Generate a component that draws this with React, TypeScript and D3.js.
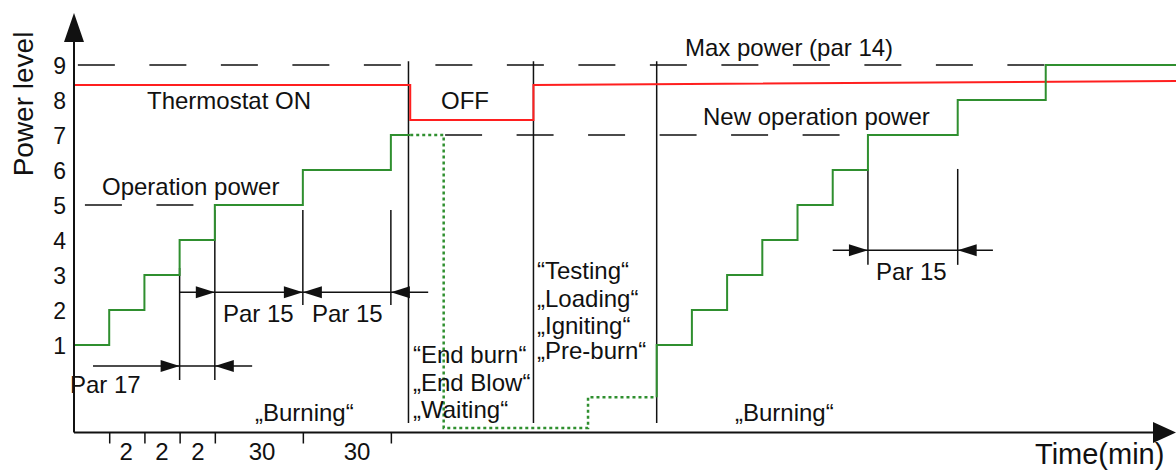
import React, { useEffect, useRef } from 'react'
import * as d3 from 'd3'

// Schematic chart values: x in "step units" along the time axis, y in power levels
const levelTicks = [1, 2, 3, 4, 5, 6, 7, 8, 9]
const timeTicks = [1, 2, 3, 4, 6.5, 9]
const timeLabels = ['2', '2', '2', '30', '30']
const timeLabelAt = [1.48, 2.5, 3.52, 5.34, 8.04]

// power steps during first burning phase
const rampUp: [number, number][] = [
  [0, 1], [1, 2], [2, 3], [3, 4], [4, 5], [6.5, 6], [9, 7], [9.55, 7],
]
// end burn / waiting / testing (dotted)
const shutdown: [number, number][] = [
  [9.55, 7], [10.5, 7], [10.5, -1.37], [14.6, -1.37], [14.6, -0.49], [16.55, -0.49],
]
// restart up to max power
const restart: [number, number][] = [
  [16.55, -0.49], [16.55, 1], [17.55, 2], [18.55, 3], [19.55, 4], [20.55, 5],
  [21.55, 6], [22.55, 7], [25.1, 8], [27.6, 9], [31.3, 9],
]
// thermostat state line
const thermostat: [number, number][] = [
  [0, 8.43], [9.55, 8.43], [9.55, 7.43], [13.05, 7.43], [13.05, 8.43], [31.3, 8.54],
]

// dashed reference levels: [level, from, to]
const refLevels: [number, number, number][] = [
  [9, 0.11, 27.6],
  [7, 10.54, 21.8],
  [5, 0.31, 3.6],
]
// phase boundaries
const phaseLines = [9.5, 13.05, 16.55]
// timer markers: [x, levelTop, levelBottom]
const markers: [number, number, number][] = [
  [3, 3.2, 0], [4, 4.86, 0], [6.5, 4.86, 2.14], [9, 4.86, 2.14],
  [22.55, 6.03, 3.29], [25.1, 6.03, 3.29],
]
// dimension rows: [level, from, to]
const dimLines: [number, number, number][] = [
  [0.4, 0.54, 5.06],
  [2.51, 3, 10.06],
  [3.71, 21.55, 26.1],
]
// arrowheads: [x tip, level, direction]
const arrowHeads: [number, number, number][] = [
  [3, 0.4, 1], [4, 0.4, -1],
  [4, 2.51, 1], [6.5, 2.51, 1], [6.5, 2.51, -1], [9, 2.51, -1],
  [22.55, 3.71, 1], [25.1, 3.71, -1],
]

const W = 1176
const H = 470
const x = d3.scaleLinear().domain([0, 31.3]).range([74, 1176])
const y = d3.scaleLinear().domain([-1.5, 9]).range([432.5, 65])

const ink = '#111'
const green = '#2f8f2f'
const red = '#ff1f1f'
const font = '"Liberation Sans", Arial, sans-serif'

const App = () => {
  const yAxisRef = useRef(null)
  const xAxisRef = useRef(null)

  const step = d3.line().x((d) => x(d[0])).y((d) => y(d[1])).curve(d3.curveStepAfter)
  const straight = d3.line().x((d) => x(d[0])).y((d) => y(d[1]))

  useEffect(() => {
    const g = d3.select(yAxisRef.current)
    g.call(d3.axisLeft(y).tickValues(levelTicks).tickSize(0).tickPadding(8).tickFormat(d3.format('d')))
    g.select('.domain').remove()
    g.selectAll('text').attr('font-size', 23).attr('font-family', font).attr('fill', ink)

    const gx = d3.select(xAxisRef.current)
    gx.call(d3.axisBottom(x).tickValues(timeTicks).tickSize(11).tickFormat(() => ''))
    gx.select('.domain').remove()
    gx.selectAll('line').attr('stroke', ink).attr('stroke-width', 1.5)
  }, [])

  const txt = { fontFamily: font, fontSize: 24, fill: ink }

  return (
    <svg width={W} height={H} style={{ display: 'block' }}>
      <style>{'body{margin:0}'}</style>
      <rect width={W} height={H} fill='#fff' />

      {/* dashed reference levels */}
      {refLevels.map(([lv, a, b], i) => (
        <line key={'r' + i} x1={x(a)} x2={x(b)} y1={y(lv)} y2={y(lv)}
          stroke={ink} strokeWidth={1.5} strokeDasharray='37 34.5' />
      ))}

      {/* phase boundaries */}
      {phaseLines.map((p, i) => (
        <line key={'p' + i} x1={x(p)} x2={x(p)} y1={y(9.11)} y2={y(-1.23)} stroke={ink} strokeWidth={1.5} />
      ))}

      {/* timer markers */}
      {markers.map(([m, t, b], i) => (
        <line key={'m' + i} x1={x(m)} x2={x(m)} y1={y(t)} y2={y(b)} stroke={ink} strokeWidth={1.5} />
      ))}
      {dimLines.map(([lv, a, b], i) => (
        <line key={'d' + i} x1={x(a)} x2={x(b)} y1={y(lv)} y2={y(lv)} stroke={ink} strokeWidth={1.5} />
      ))}
      {arrowHeads.map(([t, lv, dir], i) => {
        const tx = x(t)
        const ty = y(lv)
        return (
          <path key={'a' + i} fill={ink}
            d={`M${tx},${ty} L${tx - dir * 19},${ty - 6} L${tx - dir * 19},${ty + 6} Z`} />
        )
      })}

      {/* series */}
      <path d={straight(thermostat)} fill='none' stroke={red} strokeWidth={2} />
      <path d={step(rampUp)} fill='none' stroke={green} strokeWidth={2} />
      <path d={straight(shutdown)} fill='none' stroke={green} strokeWidth={2.5} strokeDasharray='3 3' />
      <path d={step(restart)} fill='none' stroke={green} strokeWidth={2} />

      {/* axes */}
      <line x1={74} x2={74} y1={38} y2={432.5} stroke={ink} strokeWidth={2} />
      <path d='M74,13 L64,42 L84,42 Z' fill={ink} />
      <line x1={74} x2={1156} y1={432.5} y2={432.5} stroke={ink} strokeWidth={2} />
      <path d='M1176,432.5 L1153,422 L1153,443 Z' fill={ink} />
      <g ref={yAxisRef} transform='translate(74,1)' />
      <g ref={xAxisRef} transform='translate(0,432.5)' />
      {timeLabels.map((t, i) => (
        <text key={'t' + i} x={x(timeLabelAt[i])} y={460} textAnchor='middle'
          fontFamily={font} fontSize={24} fill={ink}>{t}</text>
      ))}

      <text transform='translate(33,104) rotate(-90)' textAnchor='middle'
        fontFamily={font} fontSize={28} fill={ink}>Power level</text>
      <text x={1035} y={464} fontFamily={font} fontSize={29} fill={ink}>Time(min)</text>

      {/* annotations */}
      <text x={685} y={56} {...txt}>Max power (par 14)</text>
      <text x={147} y={109} {...txt}>Thermostat ON</text>
      <text x={441} y={109} {...txt}>OFF</text>
      <text x={703} y={125} {...txt}>New operation power</text>
      <text x={102} y={195} {...txt}>Operation power</text>
      <text x={70} y={393} {...txt}>Par 17</text>
      <text x={223} y={322} {...txt}>Par 15</text>
      <text x={312} y={322} {...txt}>Par 15</text>
      <text x={876} y={280} {...txt}>Par 15</text>
      <text x={255} y={421} {...txt}>„Burning“</text>
      <text x={735} y={421} {...txt}>„Burning“</text>
      <text x={413} y={363} {...txt}>“End burn“</text>
      <text x={413} y={391} {...txt}>„End Blow“</text>
      <text x={413} y={418} {...txt}>„Waiting“</text>
      <text x={537} y={279} {...txt}>“Testing“</text>
      <text x={537} y={307} {...txt}>„Loading“</text>
      <text x={537} y={334} {...txt}>„Igniting“</text>
      <text x={537} y={359} {...txt}>„Pre-burn“</text>
    </svg>
  )
}

export default App
